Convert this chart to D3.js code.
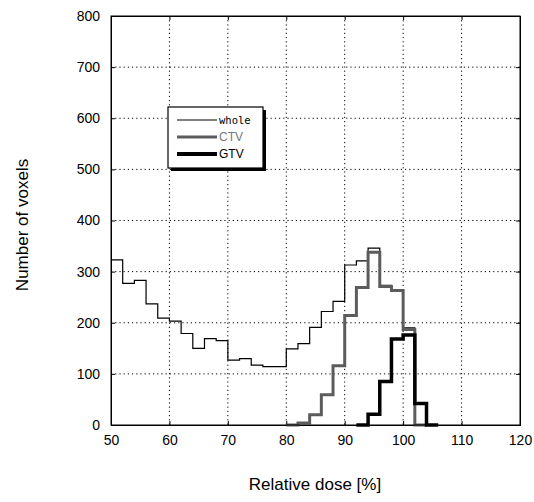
<!DOCTYPE html>
<html>
<head>
<meta charset="utf-8">
<script src="https://cdn.jsdelivr.net/npm/d3@7"></script>
<style>
  body { margin: 0; background: #fff; }
  text { font-family: Arial, "Liberation Sans", sans-serif; }
</style>
</head>
<body>
<svg id="chart" width="534" height="502"></svg>
<script>
// bin left edges (2 % wide)
var wholeDose = [50, 52, 54, 56, 58, 60, 62, 64, 66, 68, 70, 72, 74, 76, 78, 80, 82, 84, 86, 88, 90, 92, 94, 96, 98, 100, 102, 104]
var wholeCount = [323, 277, 283, 237, 209, 203, 179, 150, 169, 165, 127, 130, 117, 114, 114, 149, 159, 191, 222, 242, 313, 321, 346, 273, 265, 190, 0, 0]

var ctvDose = [80, 82, 84, 86, 88, 90, 92, 94, 96, 98, 100, 102]
var ctvCount = [0, 4, 20, 59, 116, 214, 269, 338, 271, 263, 187, 0]

var gtvDose = [92, 94, 96, 98, 100, 102, 104]
var gtvCount = [0, 21, 85, 168, 176, 42, 0]

var xTicks = [50, 60, 70, 80, 90, 100, 110, 120]
var yTicks = [0, 100, 200, 300, 400, 500, 600, 700, 800]

var legendNames = ['whole', 'CTV', 'GTV']

var binWidth = 2

var svg = d3.select('#chart')
// note: "top" is taken by window.top, so plot edges get their own names
var pLeft = 111, pRight = 520, pTop = 16, pBottom = 425

var x = d3.scaleLinear().domain([50, 120]).range([pLeft, pRight])
var y = d3.scaleLinear().domain([0, 800]).range([pBottom, pTop])

// dotted grid
svg.append('g')
    .selectAll('line')
    .data(xTicks.slice(1, -1))
    .enter().append('line')
    .attr('x1', d => x(d)).attr('x2', d => x(d))
    .attr('y1', pTop).attr('y2', pBottom)
    .attr('stroke', '#000').attr('stroke-width', 1)
    .attr('stroke-dasharray', '1.2,3')
svg.append('g')
    .selectAll('line')
    .data(yTicks.slice(1, -1))
    .enter().append('line')
    .attr('y1', d => y(d)).attr('y2', d => y(d))
    .attr('x1', pLeft).attr('x2', pRight)
    .attr('stroke', '#000').attr('stroke-width', 1)
    .attr('stroke-dasharray', '1.2,3')

// axes, ticks pointing inward
var xAxis = svg.append('g')
    .attr('transform', `translate(0,${pBottom})`)
    .call(d3.axisBottom(x).tickValues(xTicks).tickSize(-4).tickPadding(10).tickFormat(d3.format('d')))
var yAxis = svg.append('g')
    .attr('transform', `translate(${pLeft},0)`)
    .call(d3.axisLeft(y).tickValues(yTicks).tickSize(-4).tickPadding(11).tickFormat(d3.format('d')))
svg.append('g')
    .attr('transform', `translate(0,${pTop})`)
    .call(d3.axisTop(x).tickValues(xTicks).tickSize(-4).tickFormat(''))
svg.append('g')
    .attr('transform', `translate(${pRight},0)`)
    .call(d3.axisRight(y).tickValues(yTicks).tickSize(-4).tickFormat(''))

svg.selectAll('.domain').attr('stroke', '#000')
svg.selectAll('.tick line').attr('stroke', '#000')
xAxis.selectAll('text').attr('font-size', 14).attr('fill', '#000')
yAxis.selectAll('text').attr('font-size', 14).attr('fill', '#000')

// step histograms
function stepLine(dose, count) {
    var pts = dose.map((d, i) => [d, count[i]])
    pts.push([dose[dose.length - 1] + binWidth, count[count.length - 1]])
    return d3.line()
        .x(d => x(d[0]))
        .y(d => y(d[1]))
        .curve(d3.curveStepAfter)(pts)
}

svg.append('path')
    .attr('d', stepLine(wholeDose, wholeCount))
    .attr('fill', 'none').attr('stroke', '#000').attr('stroke-width', 1.2)
svg.append('path')
    .attr('d', stepLine(ctvDose, ctvCount))
    .attr('fill', 'none').attr('stroke', '#5c5c5c').attr('stroke-width', 3)
svg.append('path')
    .attr('d', stepLine(gtvDose, gtvCount))
    .attr('fill', 'none').attr('stroke', '#000').attr('stroke-width', 3.5)

// frame
svg.append('rect')
    .attr('x', pLeft).attr('y', pTop)
    .attr('width', pRight - pLeft).attr('height', pBottom - pTop)
    .attr('fill', 'none').attr('stroke', '#000').attr('stroke-width', 1)

// legend with shadow
var lg = svg.append('g').attr('transform', 'translate(168,107)')
lg.append('rect').attr('x', 3).attr('y', 3).attr('width', 95).attr('height', 61).attr('fill', '#000')
lg.append('rect').attr('x', 0).attr('y', 0).attr('width', 95).attr('height', 61)
    .attr('fill', '#fff').attr('stroke', '#000').attr('stroke-width', 1.2)
var legendStyle = [
    { color: '#555', width: 1.5, text: '#000', font: '"DejaVu Sans Mono", monospace', size: 10.5 },
    { color: '#5c5c5c', width: 3, text: '#777', font: '"Liberation Sans Narrow", Arial, sans-serif', size: 12 },
    { color: '#000', width: 4, text: '#000', font: '"Liberation Sans Narrow", Arial, sans-serif', size: 12 }
]
legendNames.forEach(function (name, i) {
    var yy = 13 + i * 17
    lg.append('line')
        .attr('x1', 9).attr('x2', 49).attr('y1', yy).attr('y2', yy)
        .attr('stroke', legendStyle[i].color).attr('stroke-width', legendStyle[i].width)
    lg.append('text')
        .attr('x', 51).attr('y', yy + 4)
        .attr('font-size', legendStyle[i].size)
        .style('font-family', legendStyle[i].font)
        .attr('fill', legendStyle[i].text)
        .text(name)
})

// axis titles
svg.append('text')
    .attr('x', 315).attr('y', 490)
    .attr('text-anchor', 'middle').attr('font-size', 17)
    .text('Relative dose [%]')
svg.append('text')
    .attr('transform', 'translate(28,225) rotate(-90)')
    .attr('text-anchor', 'middle').attr('font-size', 17)
    .text('Number of voxels')
</script>
</body>
</html>
